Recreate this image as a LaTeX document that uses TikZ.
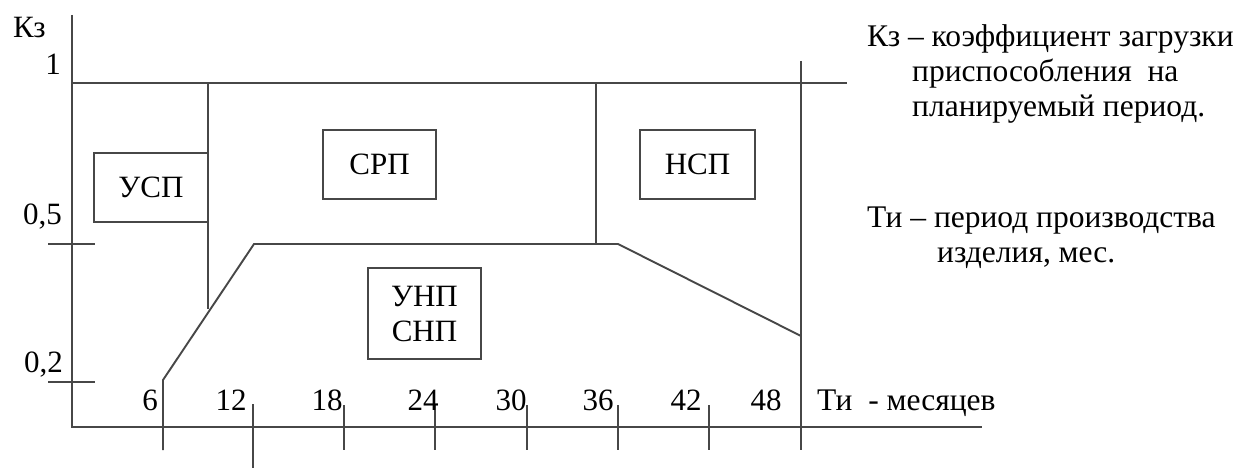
\documentclass[tikz,border=0pt]{standalone}
\usepackage{fontspec}
\setmainfont{Liberation Serif}
\begin{document}
\begin{tikzpicture}[x=1pt,y=-1pt,
  ln/.style={line width=1.9pt,draw=black!72},
  zone/.style={ln,rectangle,inner sep=0pt,font=\fontsize{31}{35}\selectfont,align=center},
  lbl/.style={inner sep=0pt,anchor=base,font=\fontsize{31}{35}\selectfont},
  txt/.style={inner sep=0pt,anchor=base west,font=\fontsize{31.5}{35}\selectfont}]
\useasboundingbox[fill=white] (0,0) rectangle (1247,468);
% axes
\coordinate (yTop) at (72,15);
\coordinate (org) at (72,427);
\coordinate (xEnd) at (982,427);
\draw[ln] (yTop) -- (org) -- (xEnd);
% top line K=1
\coordinate (t0) at (72,83);
\coordinate (t1) at (847,83);
\draw[ln] (t0) -- (t1);
% y ticks
\coordinate (a5) at (48,244); \coordinate (b5) at (95,244);
\coordinate (a2) at (48,382); \coordinate (b2) at (95,382);
\draw[ln] (a5) -- (b5);
\draw[ln] (a2) -- (b2);
% vertical dividers
\coordinate (v1a) at (208,83); \coordinate (v1b) at (208,309);
\coordinate (v2a) at (596,83); \coordinate (v2b) at (596,244);
\coordinate (v3a) at (801,61); \coordinate (v3b) at (801,450);
\draw[ln] (v1a) -- (v1b);
\draw[ln] (v2a) -- (v2b);
\draw[ln] (v3a) -- (v3b);
% boundary polyline
\coordinate (p0) at (163,450);
\coordinate (p1) at (163,380);
\coordinate (p2) at (254,244);
\coordinate (p3) at (618,244);
\coordinate (p4) at (801,336);
\draw[ln] (p0) -- (p1) -- (p2) -- (p3) -- (p4);
% x ticks
\foreach \n/\x/\top/\bot in {t12/253/404/468, t18/344/405/450, t24/435/405/450, t30/527/405/450, t36/618/405/450, t42/709/405/450}{
  \coordinate (\n a) at (\x,\top); \coordinate (\n b) at (\x,\bot);
  \draw[ln] (\n a) -- (\n b);
}
% zone boxes
\node[zone,minimum width=114pt,minimum height=69pt] (usp) at (151,187.5) {УСП};
\node[zone,minimum width=113pt,minimum height=69pt] (srp) at (379.5,164.5) {СРП};
\node[zone,minimum width=115pt,minimum height=69pt] (nsp) at (697.5,164.5) {НСП};
\node[zone,minimum width=113pt,minimum height=91pt] (unp) at (424.5,313.5) {УНП\\СНП};
% axis labels
\node[lbl,anchor=base west] (kz) at (13,38) {Кз};
\node[lbl,anchor=base east] (l1) at (61,75) {1};
\node[lbl,anchor=base east] (l05) at (62,224) {0,5};
\node[lbl,anchor=base east] (l02) at (63,372) {0,2};
\node[lbl] (n6) at (150,410) {6};
\node[lbl] (n12) at (231,410) {12};
\node[lbl] (n18) at (327,410) {18};
\node[lbl] (n24) at (423,410) {24};
\node[lbl] (n30) at (511,410) {30};
\node[lbl] (n36) at (598,410) {36};
\node[lbl] (n42) at (686,410) {42};
\node[lbl] (n48) at (766,410) {48};
\node[txt] (ti) at (817,410) {Ти\ \ - месяцев};
% legend
\node[txt] (g1) at (867,47) {Кз – коэффициент загрузки};
\node[txt] (g2) at (912,82) {приспособления\ \ на};
\node[txt] (g3) at (912,117) {планируемый период.};
\node[txt] (g4) at (867,227) {Ти – период производства};
\node[txt] (g5) at (937,262) {изделия, мес.};
\end{tikzpicture}
\end{document}
